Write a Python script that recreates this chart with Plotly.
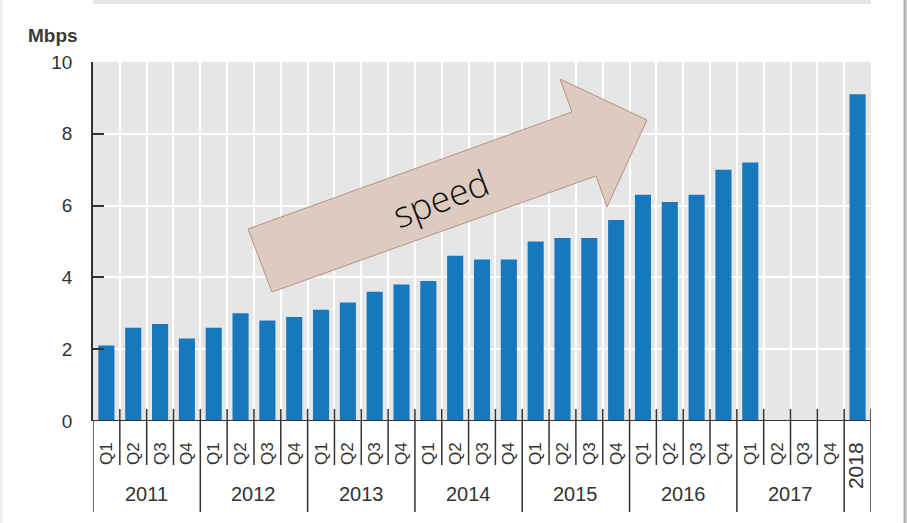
import plotly.graph_objects as go

# ---- data ----
years = ["2011", "2012", "2013", "2014", "2015", "2016", "2017"]
quarters = ["Q1", "Q2", "Q3", "Q4"]
speed_quarterly = [
    2.1, 2.6, 2.7, 2.3,   # 2011
    2.6, 3.0, 2.8, 2.9,   # 2012
    3.1, 3.3, 3.6, 3.8,   # 2013
    3.9, 4.6, 4.5, 4.5,   # 2014
    5.0, 5.1, 5.1, 5.6,   # 2015
    6.3, 6.1, 6.3, 7.0,   # 2016
    7.2, None, None, None # 2017
]
annual_label = "2018"
annual_value = 9.1
y_ticks = [0, 2, 4, 6, 8, 10]
unit_label = "Mbps"
arrow_text = "speed"

# ---- derived ----
values = speed_quarterly + [annual_value]
tick_text = [q for _ in years for q in quarters] + [
    '<span style="font-size:21px">%s</span>' % annual_label]
xpos = list(range(len(values)))
n = len(values)

W, H = 907, 523
L, T = 93, 62
R = W - 871
B = H - 421
pw, ph = W - L - R, H - T - B

def px(x):  # screenshot pixel -> paper
    return (x - L) / pw

def py(y):
    return (H - B - y) / ph

fig = go.Figure()
fig.add_trace(go.Bar(
    x=xpos, y=values, width=0.6,
    marker=dict(color="#1878be", line=dict(width=0)),
    showlegend=False, hoverinfo="x+y"))

shapes = []
line_col = "#333333"
for i in range(n + 1):
    b = i - 0.5
    is_year = (i % 4 == 0) or i >= n - 1
    y1 = py(512) if is_year else py(465)
    y0 = 0 if i == 0 else py(409)
    shapes.append(dict(type="line", xref="x", yref="paper", x0=b, x1=b,
                       y0=y0, y1=y1, line=dict(color=line_col, width=1.5),
                       layer="above"))

# arrow decoration
arrow_pts = [(272, 292), (248, 229), (572, 112), (560, 79), (647, 120),
             (607, 207), (596, 176)]
path = "M " + " L ".join("%.4f %.4f" % (px(a), py(b)) for a, b in arrow_pts) + " Z"
shapes.append(dict(type="path", xref="paper", yref="paper", path=path,
                   fillcolor="#ddcbc0", line=dict(color="#b6937f", width=1),
                   layer="above"))

# frame bits of the screenshot
shapes.append(dict(type="rect", xref="paper", yref="paper",
                   x0=px(93), x1=px(871), y0=py(0), y1=py(4),
                   fillcolor="#e6e6e6", line=dict(width=0)))
shapes.append(dict(type="line", xref="paper", yref="paper",
                   x0=px(905), x1=px(905), y0=py(0), y1=py(523),
                   line=dict(color="#b0b0b0", width=3)))
shapes.append(dict(type="line", xref="paper", yref="paper",
                   x0=px(1), x1=px(1), y0=py(0), y1=py(523),
                   line=dict(color="#ededed", width=3)))

annotations = []
for k, yr in enumerate(years):
    annotations.append(dict(x=4 * k + 1.5, y=py(494), xref="x", yref="paper",
                            text=yr, showarrow=False, xanchor="center",
                            yanchor="middle",
                            font=dict(size=20, color="#333333")))
annotations.append(dict(x=px(53), y=py(35), xref="paper", yref="paper",
                        text=unit_label, showarrow=False, xanchor="center",
                        yanchor="middle",
                        font=dict(size=19, color="#3a3a3a", weight="bold")))
annotations.append(dict(x=px(440), y=py(198), xref="paper", yref="paper",
                        text=arrow_text, showarrow=False, textangle=-21,
                        xanchor="center", yanchor="middle",
                        font=dict(size=36, color="#111111", family="Open Sans",
                                  weight=300)))

fig.update_layout(
    width=W, height=H,
    margin=dict(l=L, r=R, t=T, b=B, autoexpand=False),
    paper_bgcolor="white", plot_bgcolor="#e6e6e6",
    font=dict(family="Liberation Sans, Arial, sans-serif", color="#333333"),
    bargap=0.4,
    xaxis=dict(range=[-0.5, n - 0.5], tickmode="array", tickvals=xpos,
               ticktext=tick_text, tickangle=-90, ticks="", showgrid=False,
               zeroline=False, showline=False,
               tickfont=dict(size=17, color="#333333"),
               ticklabelstandoff=17,
               minor=dict(tickmode="array", tickvals=[i + 0.5 for i in range(n - 1)],
                          showgrid=True, gridcolor="white", gridwidth=2, ticks="")),
    yaxis=dict(range=[0, 10], tickmode="array", tickvals=y_ticks,
               showgrid=True, gridcolor="white", gridwidth=1.5,
               zeroline=False, showline=True, linecolor=line_col, linewidth=1.5,
               ticks="inside", ticklen=11, tickwidth=1.5, tickcolor=line_col,
               ticklabelstandoff=15,
               tickfont=dict(size=19, color="#333333")),
    shapes=shapes, annotations=annotations,
)
fig.add_shape(type="line", xref="paper", yref="y", x0=0, x1=1, y0=0, y1=0,
              line=dict(color=line_col, width=1.8), layer="above")

fig.write_html("out.html", config={"displayModeBar": False},
               post_script="document.body.style.margin='0px';")
